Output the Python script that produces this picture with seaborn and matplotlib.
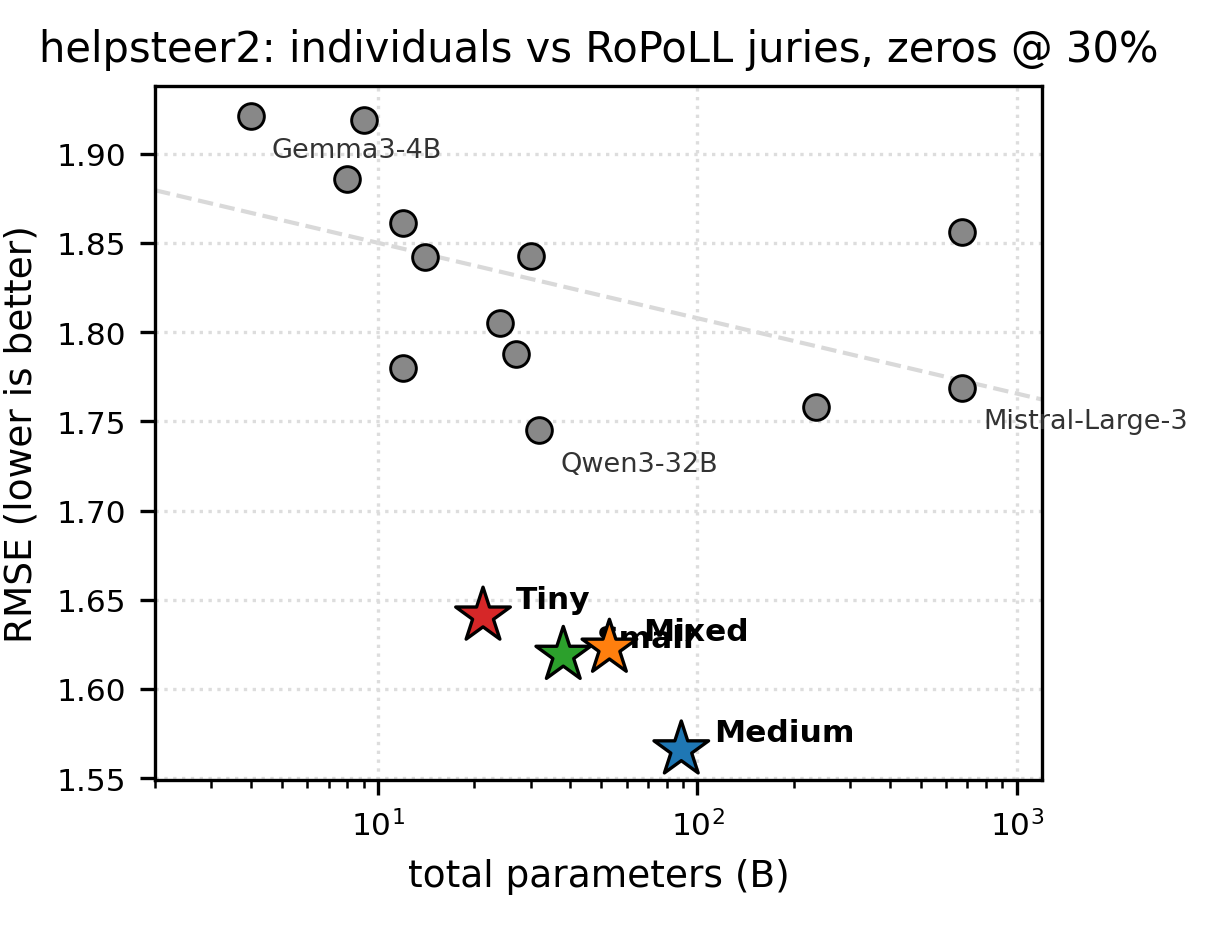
import numpy as np
import pandas as pd
import matplotlib
matplotlib.use('Agg')
import matplotlib.pyplot as plt
import seaborn as sns

# individual judges: total params (B) and RMSE
ind_params = [4, 9, 8, 12, 14, 30, 24, 27, 12, 32, 235, 675, 675]
ind_rmse = [1.921, 1.919, 1.886, 1.861, 1.842, 1.843, 1.805, 1.788, 1.780, 1.745, 1.758, 1.856, 1.769]
ind_names = ['Gemma3-4B', 'm2', 'm3', 'm4', 'm5', 'm6', 'm7', 'm8', 'm9', 'Qwen3-32B', 'm11', 'm12', 'Mistral-Large-3']
labelled = ['Gemma3-4B', 'Qwen3-32B', 'Mistral-Large-3']

# juries
jury_names = ['Tiny', 'Small', 'Mixed', 'Medium']
jury_params = [21.3, 38, 53, 89]
jury_rmse = [1.641, 1.619, 1.623, 1.566]
jury_colors = ['#d62728', '#2ca02c', '#ff7f0e', '#1f77b4']

plt.rcParams['font.family'] = ['DejaVu Sans']

fig, ax = plt.subplots(figsize=(4.05, 3.113), dpi=300)
fig.subplots_adjust(left=0.1276, right=0.8576, top=0.9069, bottom=0.1638)

ind = pd.DataFrame({'params': ind_params, 'rmse': ind_rmse, 'name': ind_names})
jur = pd.DataFrame({'params': jury_params, 'rmse': jury_rmse, 'name': jury_names})

ax.set_xscale('log')
ax.set_xlim(2, 1200)
ax.set_ylim(1.549, 1.938)

# trend over individuals (log-x fit)
k, b = np.polyfit(np.log10(ind['params']), ind['rmse'], 1)
xs = np.array([2, 1200])
ax.plot(xs, k * np.log10(xs) + b, ls='--', color='#d9d9d9', lw=1.0, zorder=1)

sns.scatterplot(data=ind, x='params', y='rmse', ax=ax, color='#888888',
                edgecolor='black', linewidth=0.7, s=38, zorder=3, legend=False)
for _, r in ind.iterrows():
    if r['name'] in labelled:
        ax.annotate(r['name'], (r['params'], r['rmse']), xytext=(5, -8),
                    textcoords='offset points', fontsize=6.5, color='#333333',
                    ha='left', va='center')

sns.scatterplot(data=jur, x='params', y='rmse', hue='name', palette=jury_colors,
                marker='*', s=190, edgecolor='black', linewidth=0.8, ax=ax,
                zorder=4, legend=False)
for _, r in jur.iterrows():
    ax.annotate(r['name'], (r['params'], r['rmse']), xytext=(8, 4),
                textcoords='offset points', fontsize=7.5, fontweight='bold',
                ha='left', va='center')

ax.grid(True, which='major', ls=':', color='#dddddd', lw=0.8)
ax.set_yticks([1.55, 1.60, 1.65, 1.70, 1.75, 1.80, 1.85, 1.90])
ax.tick_params(labelsize=7.5)
ax.set_xlabel('total parameters (B)', fontsize=9)
ax.set_ylabel('RMSE (lower is better)', fontsize=9)
ax.set_title('helpsteer2: individuals vs RoPoLL juries, zeros @ 30%', fontsize=10)

fig.savefig('out.png', dpi=300)
